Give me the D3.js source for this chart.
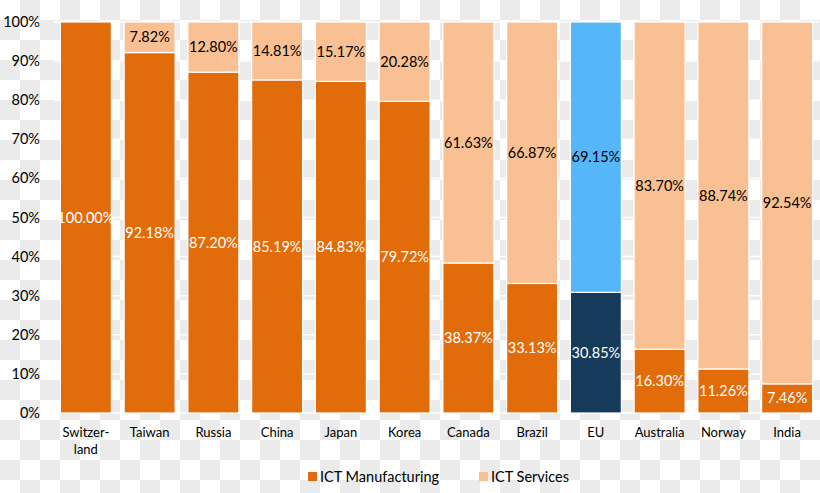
<!DOCTYPE html>
<html><head><meta charset="utf-8">
<script src="https://cdn.jsdelivr.net/npm/d3@7/dist/d3.min.js"></script>
<style>body{margin:0;}svg{display:block;}</style>
</head><body><svg id="c" width="820" height="493"></svg>
<script>
const categories = ["Switzer-\nland","Taiwan","Russia","China","Japan","Korea","Canada","Brazil","EU","Australia","Norway","India"];
const manufacturing = [100.00,92.18,87.20,85.19,84.83,79.72,38.37,33.13,30.85,16.30,11.26,7.46];
const services = [0,7.82,12.80,14.81,15.17,20.28,61.63,66.87,69.15,83.70,88.74,92.54];
const yTicks = [0,10,20,30,40,50,60,70,80,90,100];
const seriesNames = ["ICT Manufacturing","ICT Services"];

const W=820,H=493;
const svg=d3.select("#c");
const font="Lato, 'Open Sans', sans-serif";
// checkerboard background
const defs=svg.append("defs");
const pat=defs.append("pattern").attr("id","chk").attr("width",40).attr("height",40).attr("patternUnits","userSpaceOnUse");
pat.append("rect").attr("width",40).attr("height",40).attr("fill","#ffffff");
pat.append("rect").attr("x",20).attr("y",0).attr("width",20).attr("height",20).attr("fill","#ebebeb");
pat.append("rect").attr("x",0).attr("y",20).attr("width",20).attr("height",20).attr("fill","#ebebeb");
svg.append("rect").attr("width",W).attr("height",H).attr("fill","url(#chk)");

const x=d3.scaleBand().domain(categories).range([54,819]).paddingInner(0.2).paddingOuter(0.1);
const y=d3.scaleLinear().domain([0,100]).range([413,22]);

// gridlines
svg.append("g").selectAll("line").data(yTicks).join("line")
 .attr("x1",54).attr("x2",819).attr("y1",d=>y(d)).attr("y2",d=>y(d))
 .attr("stroke","#ffffff").attr("stroke-width",1.5);

const colM=(i)=>categories[i]==="EU"?"#163a5a":"#e26b0a";
const colS=(i)=>categories[i]==="EU"?"#55b6f8":"#f9c193";

const g=svg.append("g");
categories.forEach((c,i)=>{
  const bx=x(c), bw=x.bandwidth();
  g.append("rect").attr("x",bx).attr("width",bw).attr("y",y(manufacturing[i])).attr("height",y(0)-y(manufacturing[i]))
   .attr("fill",colM(i)).attr("stroke","#fff").attr("stroke-width",1.2);
  if(services[i]>0){
    g.append("rect").attr("x",bx).attr("width",bw).attr("y",y(100)).attr("height",y(manufacturing[i])-y(100))
     .attr("fill",colS(i)).attr("stroke","#fff").attr("stroke-width",1.2);
  }
  g.append("text").attr("x",bx+bw/2).attr("y",y(manufacturing[i]/2)).attr("dy","0.35em")
   .attr("text-anchor","middle").attr("font-family",font).attr("font-size",14.5).attr("fill","#ffffff")
   .text(manufacturing[i].toFixed(2)+"%");
  if(services[i]>0){
    g.append("text").attr("x",bx+bw/2).attr("y",y(manufacturing[i]+services[i]/2)).attr("dy","0.35em")
     .attr("text-anchor","middle").attr("font-family",font).attr("font-size",14.5).attr("fill","#000000")
     .text(services[i].toFixed(2)+"%");
  }
});

// y axis labels
svg.append("g").selectAll("text").data(yTicks).join("text")
 .attr("x",40).attr("y",d=>y(d)).attr("dy","0.35em").attr("text-anchor","end")
 .attr("font-family",font).attr("font-size",14.5).attr("fill","#000").text(d=>d+"%");

// x labels
const xl=svg.append("g");
categories.forEach(c=>{
  const lines=c.split("\n");
  const t=xl.append("text").attr("x",x(c)+x.bandwidth()/2).attr("y",437).attr("text-anchor","middle")
    .attr("font-family",font).attr("font-size",13).attr("fill","#000");
  lines.forEach((l,k)=>t.append("tspan").attr("x",x(c)+x.bandwidth()/2).attr("dy",k?17:0).text(l));
});

// legend
const leg=svg.append("g");
const lx=[308,479];
seriesNames.forEach((s,i)=>{
  leg.append("rect").attr("x",lx[i]).attr("y",472).attr("width",9).attr("height",9).attr("fill",i?"#f9c193":"#e26b0a");
  leg.append("text").attr("x",lx[i]+12).attr("y",482).attr("font-family",font).attr("font-size",14.5).attr("fill","#000").text(s);
});
</script></body></html>
